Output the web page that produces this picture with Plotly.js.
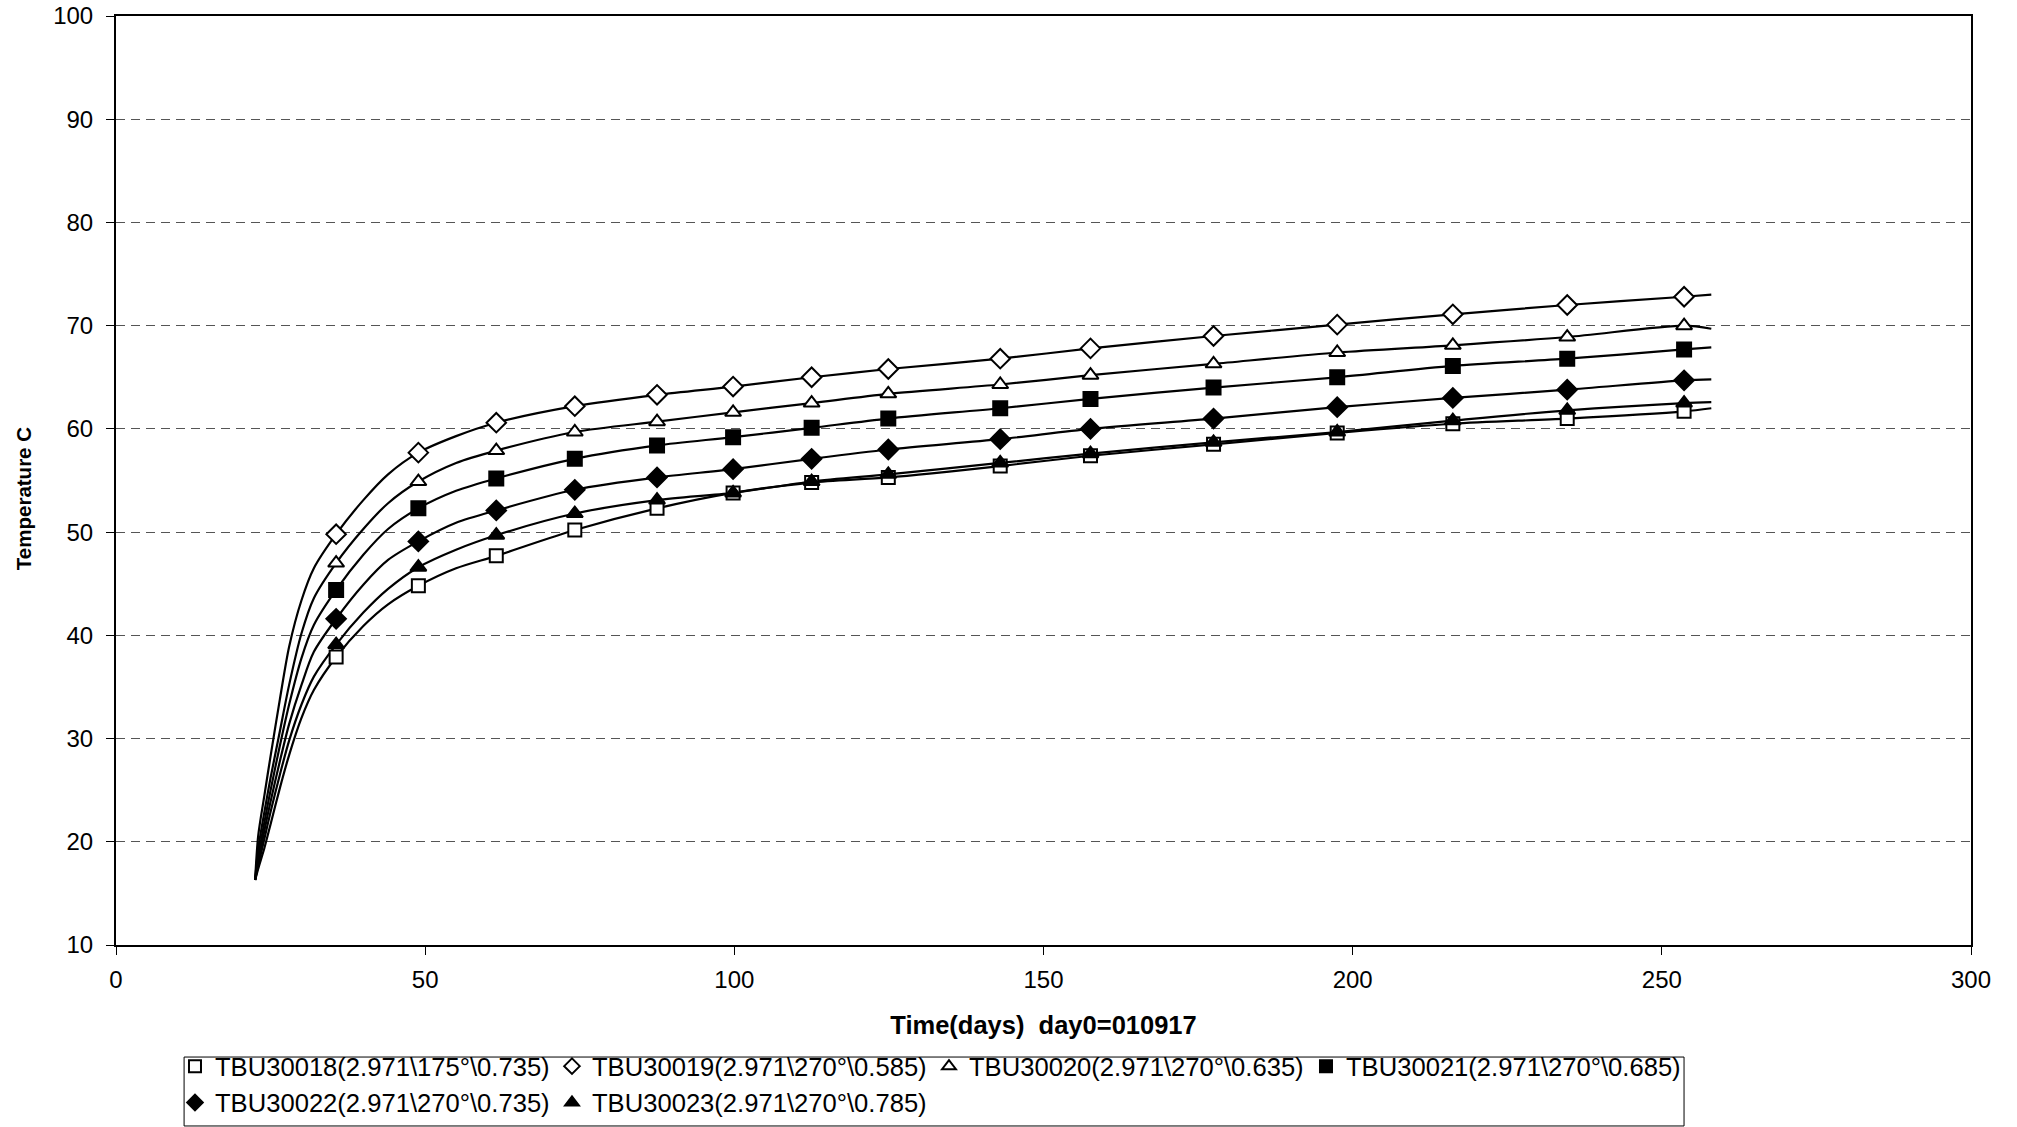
<!DOCTYPE html>
<html>
<head>
<meta charset="utf-8">
<script src="https://cdn.plot.ly/plotly-3.0.1.min.js"></script>
<style>html,body{margin:0;padding:0;background:#fff;}#chart{width:2017px;height:1127px;}</style>
</head>
<body>
<div id="chart"></div>
<script>
// Sample days for the curves (days since day0 = 010917)
const days = [22.5, 23, 24, 25, 26.5, 28, 30, 32, 35.6, 40, 44, 48.9, 55, 61.5, 74.2, 87.5, 99.8, 112.5, 124.9, 143, 157.6, 177.5, 197.5, 216.2, 234.7, 253.6, 258];
// Days at which markers are shown
const markerDays = [35.6, 48.9, 61.5, 74.2, 87.5, 99.8, 112.5, 124.9, 143, 157.6, 177.5, 197.5, 216.2, 234.7, 253.6];

const seriesNames = [
  'TBU30018(2.971\\175°\\0.735)',
  'TBU30019(2.971\\270°\\0.585)',
  'TBU30020(2.971\\270°\\0.635)',
  'TBU30021(2.971\\270°\\0.685)',
  'TBU30022(2.971\\270°\\0.735)',
  'TBU30023(2.971\\270°\\0.785)'
];

const tbu30018 = [16.3, 17.4, 19.4, 21.7, 25.2, 28.4, 32.0, 34.7, 37.9, 40.9, 43.0, 44.8, 46.5, 47.7, 50.2, 52.3, 53.8, 54.8, 55.3, 56.4, 57.4, 58.5, 59.6, 60.5, 61.0, 61.7, 62.0];
const tbu30019 = [16.3, 20.6, 24.5, 28.3, 33.8, 38.9, 43.4, 46.5, 49.8, 53.1, 55.6, 57.7, 59.3, 60.6, 62.2, 63.3, 64.1, 65.0, 65.8, 66.8, 67.8, 69.0, 70.1, 71.1, 72.0, 72.8, 73.0];
const tbu30020 = [16.3, 19.3, 22.9, 26.2, 30.7, 35.2, 40.2, 43.6, 47.0, 50.3, 52.8, 54.9, 56.7, 57.9, 59.7, 60.7, 61.6, 62.5, 63.4, 64.3, 65.2, 66.3, 67.4, 68.1, 68.9, 70.0, 69.7];
const tbu30021 = [16.3, 18.5, 21.9, 25.0, 29.3, 33.3, 37.8, 41.0, 44.4, 47.8, 50.3, 52.3, 54.0, 55.2, 57.1, 58.4, 59.2, 60.1, 61.0, 62.0, 62.9, 64.0, 65.0, 66.1, 66.8, 67.7, 67.9];
const tbu30022 = [16.3, 18.0, 21.1, 23.9, 27.8, 31.4, 35.2, 38.4, 41.6, 44.9, 47.3, 49.1, 50.9, 52.1, 54.1, 55.3, 56.1, 57.1, 58.0, 59.0, 60.0, 61.0, 62.1, 63.0, 63.8, 64.7, 64.8];
const tbu30023 = [16.3, 17.7, 20.3, 22.9, 26.5, 29.8, 33.3, 36.0, 39.1, 42.2, 44.5, 46.6, 48.3, 49.7, 51.8, 53.1, 53.8, 54.9, 55.6, 56.7, 57.6, 58.7, 59.7, 60.8, 61.8, 62.5, 62.6];

const xTicks = [0, 50, 100, 150, 200, 250, 300];
const yTicks = [10, 20, 30, 40, 50, 60, 70, 80, 90, 100];

const allValues = [tbu30018, tbu30019, tbu30020, tbu30021, tbu30022, tbu30023];
const symbols = ['square', 'diamond', 'triangle-up', 'square', 'diamond', 'triangle-up'];
const filled = [false, false, false, true, true, true];
const sizes = [13, 15, 14, 14, 15, 14];

const FONT = 'Liberation Sans, Arial, sans-serif';

const traces = [];
allValues.forEach(function (vals, i) {
  traces.push({
    x: days, y: vals, type: 'scatter', mode: 'lines',
    line: {color: '#000', width: 2.2, shape: 'spline', smoothing: 0.8},
    showlegend: false, hoverinfo: 'skip'
  });
});
allValues.forEach(function (vals, i) {
  const mx = [], my = [];
  days.forEach(function (d, k) {
    if (markerDays.indexOf(d) >= 0) { mx.push(d); my.push(vals[k]); }
  });
  traces.push({
    x: mx, y: my, type: 'scatter', mode: 'markers', name: seriesNames[i],
    marker: {symbol: symbols[i], size: sizes[i], color: filled[i] ? '#000' : '#fff',
             line: {color: '#000', width: 2}},
    showlegend: true
  });
});

const layout = {
  width: 2017, height: 1127,
  margin: {l: 116, r: 46, t: 16, b: 182, autoexpand: false},
  paper_bgcolor: '#fff', plot_bgcolor: '#fff',
  font: {family: FONT, color: '#000', size: 24},
  xaxis: {
    range: [0, 300], tickvals: xTicks, ticktext: xTicks.map(String),
    showline: true, linecolor: '#000', linewidth: 2, mirror: true,
    ticks: 'outside', ticklen: 8, tickcolor: '#000', tickwidth: 1,
    ticklabelstandoff: 4,
    showgrid: false, zeroline: false,
    tickfont: {size: 24},
    title: {text: 'Time(days)  day0=010917', font: {size: 25.5, family: FONT, weight: 'bold'}, standoff: 24}
  },
  yaxis: {
    range: [10, 100], tickvals: yTicks, ticktext: yTicks.map(String),
    showline: true, linecolor: '#000', linewidth: 2, mirror: true,
    ticks: 'outside', ticklen: 8, tickcolor: '#000', tickwidth: 1,
    ticklabelstandoff: 8,
    showgrid: true, gridcolor: '#555', gridwidth: 1, griddash: '9px,6px',
    zeroline: false, tickfont: {size: 24}
  },
  annotations: [{
    text: 'Temperature C', xref: 'paper', yref: 'paper',
    x: -0.0501, y: 0.480, xanchor: 'center', yanchor: 'middle',
    textangle: -90, showarrow: false,
    font: {size: 20.5, family: FONT, weight: 'bold', color: '#000'}
  }],
  shapes: [{
    type: 'rect', xref: 'paper', yref: 'paper',
    x0: 0.0367, x1: 0.8453, y0: -0.1206, y1: -0.1948,
    line: {color: '#000', width: 1}, fillcolor: 'rgba(0,0,0,0)', layer: 'above'
  }],
  legend: {
    orientation: 'h', x: 0.0318, xanchor: 'left', y: -0.1055, yanchor: 'top',
    borderwidth: 0, bgcolor: 'rgba(0,0,0,0)',
    font: {size: 25.6, family: FONT},
    entrywidth: 332, entrywidthmode: 'pixels', itemsizing: 'constant', itemwidth: 30,
    traceorder: 'normal'
  },
  showlegend: true
};

Plotly.newPlot('chart', traces, layout, {displayModeBar: false, staticPlot: true});
</script>
</body>
</html>
